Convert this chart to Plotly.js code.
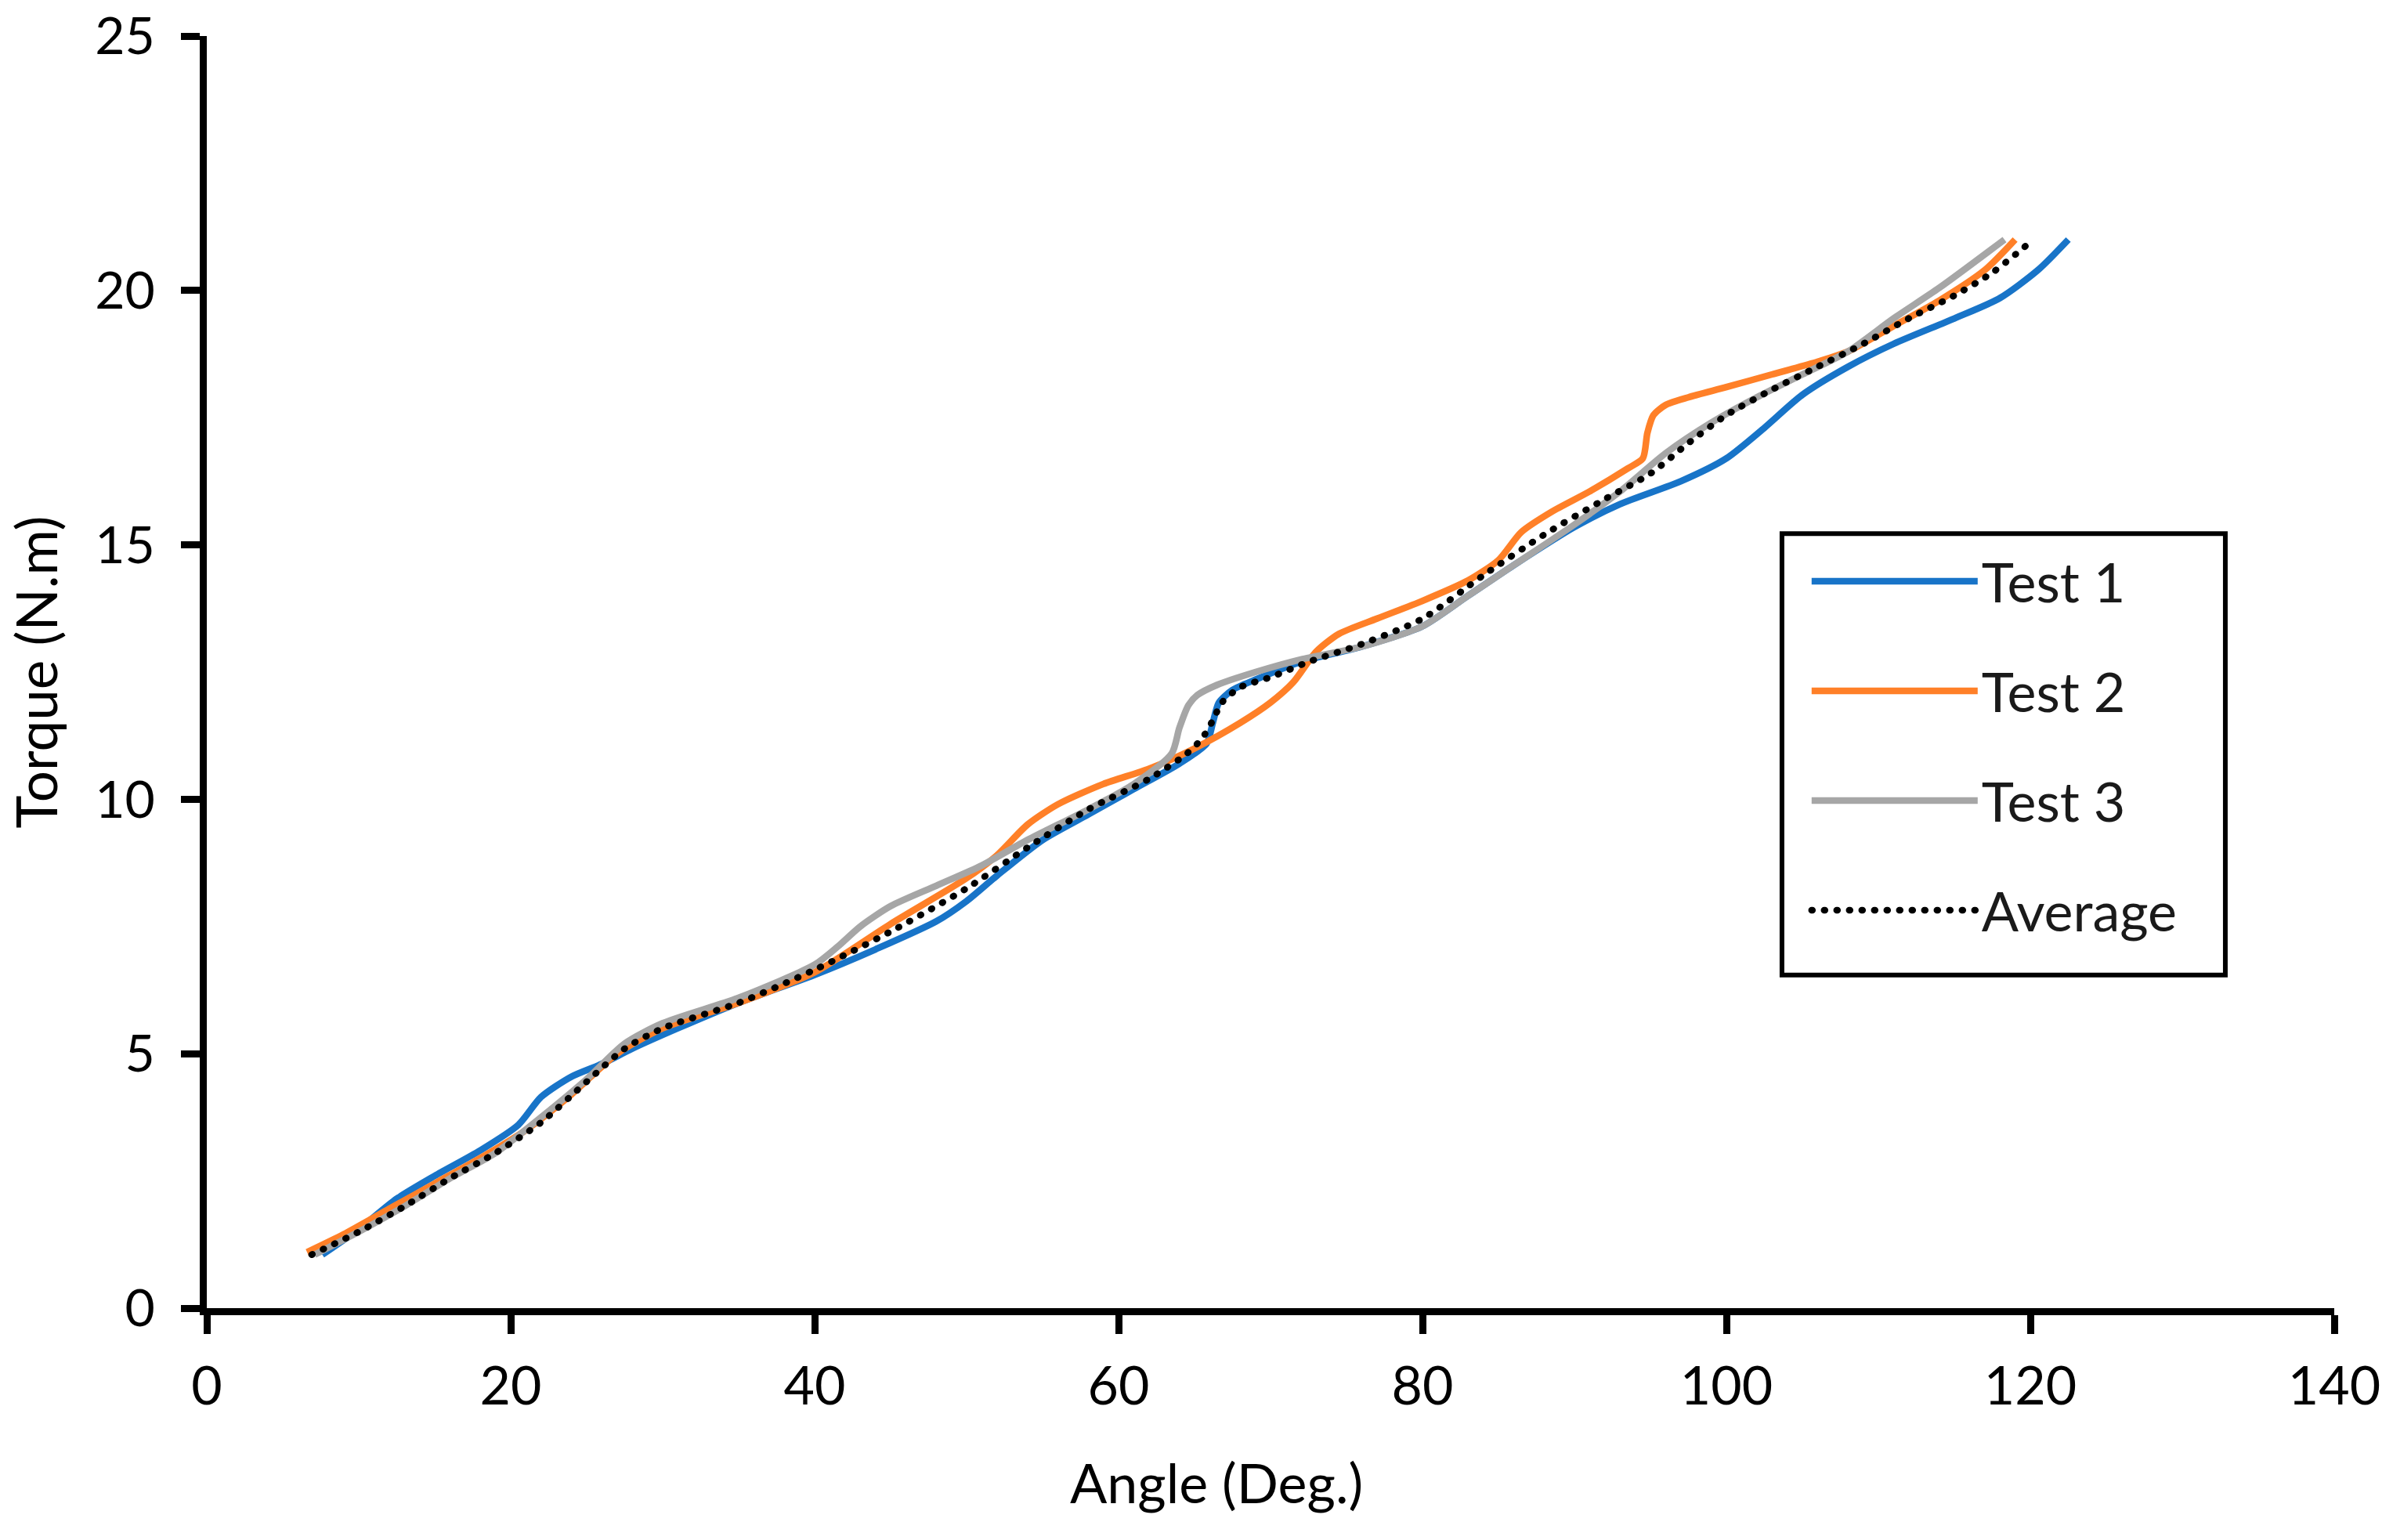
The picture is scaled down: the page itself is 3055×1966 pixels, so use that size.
<!DOCTYPE html>
<html>
<head>
<meta charset="utf-8">
<script src="https://cdn.plot.ly/plotly-3.0.1.min.js"></script>
<style>
  html, body { margin: 0; padding: 0; background: #ffffff; }
  #chart { width: 3055px; height: 1966px; }
</style>
</head>
<body>
<div id="chart"></div>
<script>
// ---- Data ----
const seriesNames = ["Test 1", "Test 2", "Test 3", "Average"];

const test1Angle = [7.6, 10, 12.5, 15, 18, 20.5, 22, 24, 26, 28, 31, 35, 40, 44, 48, 50, 52, 55, 58, 61, 64, 65.8, 66.2, 66.6, 67.5, 69, 72, 76, 80, 83, 86, 90, 93, 97, 100, 102.5, 105, 108, 111, 115, 118, 120.5, 122.5];
const test1Torque = [1.05, 1.55, 2.15, 2.6, 3.1, 3.6, 4.15, 4.55, 4.8, 5.1, 5.5, 6.0, 6.55, 7.05, 7.6, 8.0, 8.5, 9.2, 9.7, 10.2, 10.7, 11.1, 11.5, 11.9, 12.15, 12.35, 12.7, 13.0, 13.4, 14.0, 14.6, 15.35, 15.8, 16.25, 16.7, 17.3, 17.95, 18.5, 18.95, 19.45, 19.85, 20.4, 21.0];

const test2Angle = [6.6, 9, 12, 15, 18, 21, 24, 27, 30, 35, 40, 45, 50, 52, 54, 56, 59, 62, 65, 68, 70, 71.5, 73, 74.5, 77, 80, 83, 85, 86.5, 88.5, 91, 93.5, 94.5, 94.8, 95.2, 96, 97.5, 100, 103, 106, 108, 111, 114, 117, 119];
const test2Torque = [1.1, 1.45, 1.95, 2.45, 2.95, 3.5, 4.2, 5.0, 5.5, 6.0, 6.6, 7.55, 8.45, 8.9, 9.5, 9.9, 10.3, 10.6, 11.0, 11.5, 11.9, 12.3, 12.9, 13.25, 13.55, 13.9, 14.3, 14.7, 15.25, 15.65, 16.05, 16.5, 16.7, 17.2, 17.55, 17.75, 17.9, 18.1, 18.35, 18.6, 18.8, 19.3, 19.8, 20.4, 21.0];

const test3Angle = [7.1, 10, 13, 16, 19, 22, 25, 27.5, 30, 35, 40, 41.5, 43, 45, 48, 51, 54, 58, 61, 63.5, 64, 64.6, 65.2, 66.5, 69, 72, 76, 80, 83, 86, 90, 93, 96, 99, 102, 105, 108, 111, 114, 118.3];
const test3Torque = [1.05, 1.5, 2.0, 2.55, 3.05, 3.75, 4.5, 5.2, 5.6, 6.1, 6.75, 7.1, 7.5, 7.9, 8.3, 8.7, 9.2, 9.8, 10.3, 10.9, 11.4, 11.85, 12.05, 12.25, 12.5, 12.75, 13.0, 13.4, 14.0, 14.6, 15.4, 16.05, 16.8, 17.4, 17.9, 18.35, 18.8, 19.45, 20.05, 21.0];

const avgAngle = [6.9, 10, 13, 16, 19, 22, 25, 27.5, 30, 35, 40, 45, 50, 54, 58, 62, 64.5, 65.5, 66.2, 66.8, 68, 70, 72.5, 76, 80, 84, 88, 92, 95, 97.5, 100, 103, 106, 109, 112, 115, 117.5, 119.8];
const avgTorque = [1.05, 1.5, 2.0, 2.55, 3.05, 3.65, 4.45, 5.1, 5.5, 6.0, 6.65, 7.4, 8.25, 9.05, 9.8, 10.4, 10.9, 11.2, 11.55, 11.9, 12.2, 12.4, 12.7, 13.05, 13.55, 14.4, 15.2, 15.9, 16.4, 17.0, 17.55, 18.05, 18.5, 18.95, 19.45, 19.9, 20.35, 20.9];

const xTicks = [0, 20, 40, 60, 80, 100, 120, 140];
const yTicks = [0, 5, 10, 15, 20, 25];
const xTitle = "Angle (Deg.)";
const yTitle = "Torque (N.m)";

// ---- Styles ----
const FONT = "Lato, 'Open Sans', sans-serif";
const colors = ["#1874C8", "#FF8028", "#A6A6A6", "#000000"];
const xs = [test1Angle, test2Angle, test3Angle, avgAngle];
const ys = [test1Torque, test2Torque, test3Torque, avgTorque];

const traces = seriesNames.map((name, i) => ({
  type: "scatter",
  mode: "lines",
  name: name,
  x: xs[i],
  y: ys[i],
  legendgroup: "g" + i,
  line: {
    color: colors[i],
    width: 8.5,
    shape: "spline",
    smoothing: 0.7,
    dash: i === 3 ? "1px,15px" : "solid"
  },
  hoverinfo: "skip"
}));

const axisCommon = {
  showgrid: false,
  zeroline: false,
  showline: true,
  linecolor: "#000000",
  linewidth: 9,
  ticks: "outside",
  ticklen: 24,
  tickwidth: 9,
  tickcolor: "#000000",
  tickfont: { family: FONT, size: 68, color: "#000000" },
  ticklabeloverflow: "allow",
  mirror: false,
  fixedrange: true
};

const layout = {
  width: 3055,
  height: 1966,
  paper_bgcolor: "#ffffff",
  plot_bgcolor: "#ffffff",
  margin: { l: 264, r: 75, t: 46, b: 296 },
  showlegend: true,
  xaxis: Object.assign({}, axisCommon, {
    range: [0, 140],
    tickmode: "array",
    tickvals: xTicks,
    ticktext: xTicks.map(String),
    ticklabelstandoff: 8,
    automargin: false
  }),
  yaxis: Object.assign({}, axisCommon, {
    range: [0, 25],
    tickmode: "array",
    tickvals: yTicks,
    ticktext: yTicks.map(String),
    tickfont: { family: FONT, size: 66, color: "#000000" },
    ticklabelstandoff: 20,
    title: { text: yTitle, font: { family: FONT, size: 71, color: "#000000" }, standoff: 28 },
    automargin: false
  }),
  annotations: [{
    text: xTitle,
    xref: "paper", yref: "paper",
    x: 0.4746, y: -0.137,
    xanchor: "center", yanchor: "middle",
    showarrow: false,
    font: { family: FONT, size: 70, color: "#000000" }
  }],
  // legend frame (paper coordinates)
  shapes: [{
    type: "rect", xref: "paper", yref: "paper",
    x0: 0.7404, x1: 0.9488, y0: 0.2618, y1: 0.6088,
    line: { color: "#000000", width: 6 },
    fillcolor: "#ffffff",
    layer: "above"
  }],
  legend: {
    x: 0.7525,
    y: 0.6035,
    xanchor: "left",
    yanchor: "top",
    bgcolor: "rgba(0,0,0,0)",
    borderwidth: 0,
    font: { family: FONT, size: 70, color: "#1a1a1a" },
    traceorder: "grouped",
    tracegroupgap: 46,
    itemwidth: 212,
    itemclick: false,
    itemdoubleclick: false
  }
};

Plotly.newPlot("chart", traces, layout, { staticPlot: true, displayModeBar: false }).then(() => {
  document.querySelectorAll("path").forEach(p => {
    const da = p.style.strokeDasharray;
    if (da && da !== "none" && da !== "") {
      p.style.strokeLinecap = "round";
    }
  });
});
</script>
</body>
</html>
